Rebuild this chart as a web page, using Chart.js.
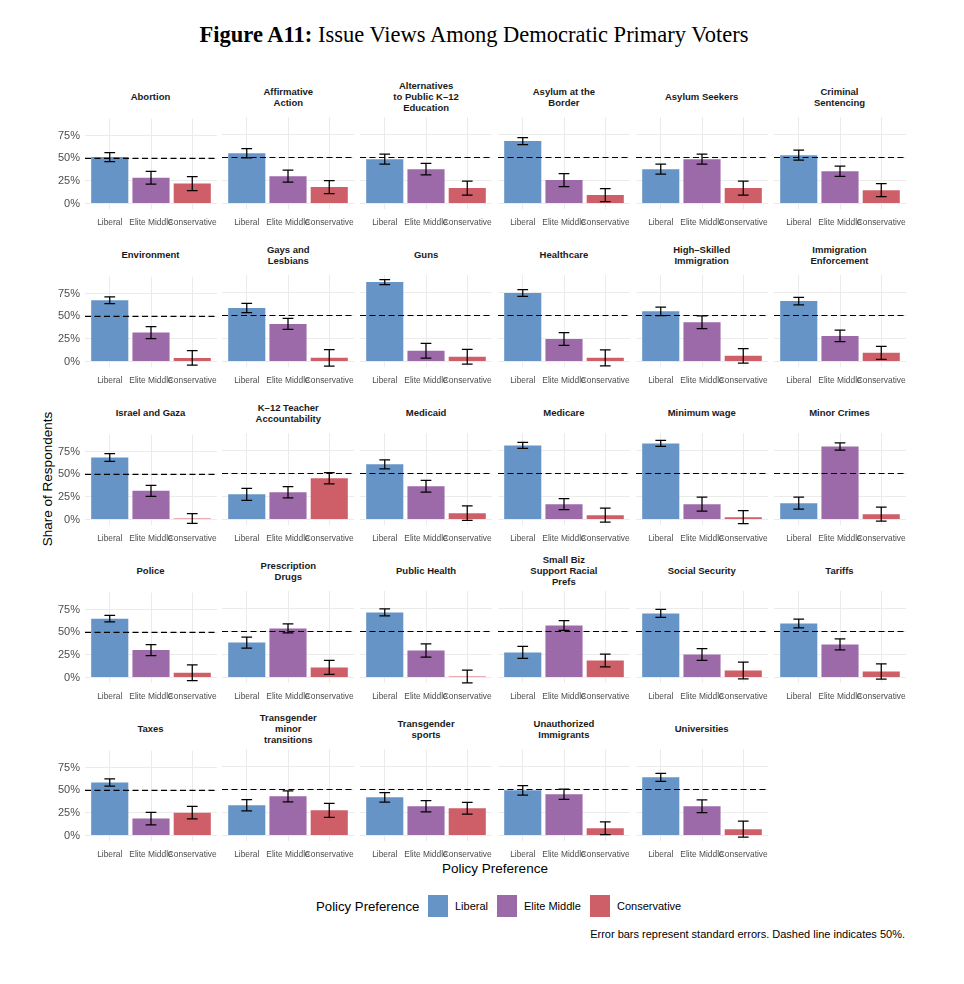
<!DOCTYPE html>
<html>
<head>
<meta charset="utf-8">
<script src="https://cdn.jsdelivr.net/npm/chart.js@4.4.1/dist/chart.umd.min.js"></script>
<style>
  body { margin: 0; background: #fff; }
  #wrap { position: relative; width: 964px; height: 984px; font-family: "Liberation Sans", Arial, sans-serif; }
  canvas { position: absolute; }
  .strip { position: absolute; display: flex; align-items: center; justify-content: center; text-align: center;
           font-weight: bold; font-size: 9.5px; line-height: 11px; color: #1a1a1a; white-space: pre-line; height: 40px; }
  .abs { position: absolute; white-space: nowrap; }
  .sw { position: absolute; width: 20px; height: 22px; }
</style>
</head>
<body>
<div id="wrap">
  <div class="abs" style="left:0;width:948px;top:22px;text-align:center;font-family:'Liberation Serif','Times New Roman',serif;font-size:22.5px;color:#000">
    <b>Figure A11:</b> Issue Views Among Democratic Primary Voters</div>
  <div class="abs" style="left:47px;top:479px;font-size:13.5px;color:#000;transform:translate(-50%,-50%) rotate(-90deg)">Share of Respondents</div>
  <div class="abs" style="left:495px;top:868px;font-size:13.5px;color:#000;transform:translate(-50%,-50%)">Policy Preference</div>

  <div class="abs" style="left:316px;top:906px;font-size:13.2px;color:#000;transform:translateY(-50%)">Policy Preference</div>
  <div class="sw" style="left:428px;top:895px;background:#6694c6"></div>
  <div class="abs" style="left:455px;top:906px;font-size:11px;color:#000;transform:translateY(-50%)">Liberal</div>
  <div class="sw" style="left:497px;top:895px;background:#9d6aa9"></div>
  <div class="abs" style="left:524px;top:906px;font-size:11px;color:#000;transform:translateY(-50%)">Elite Middle</div>
  <div class="sw" style="left:590px;top:895px;background:#ce5f69"></div>
  <div class="abs" style="left:617px;top:906px;font-size:11px;color:#000;transform:translateY(-50%)">Conservative</div>

  <div class="abs" style="right:59px;top:934px;font-size:11px;color:#000;transform:translateY(-50%)">Error bars represent standard errors. Dashed line indicates 50%.</div>
</div>

<script>
// Data ======================================================
const groups = ["Liberal", "Elite Middle", "Conservative"];
const groupColors = ["#6694c6", "#9d6aa9", "#ce5f69"];
const yTicks = [0, 25, 50, 75];

const issues = [
  "Abortion", "Affirmative\nAction", "Alternatives\nto Public K–12\nEducation", "Asylum at the\nBorder", "Asylum Seekers", "Criminal\nSentencing",
  "Environment", "Gays and\nLesbians", "Guns", "Healthcare", "High–Skilled\nImmigration", "Immigration\nEnforcement",
  "Israel and Gaza", "K–12 Teacher\nAccountability", "Medicaid", "Medicare", "Minimum wage", "Minor Crimes",
  "Police", "Prescription\nDrugs", "Public Health", "Small Biz\nSupport Racial\nPrefs", "Social Security", "Tariffs",
  "Taxes", "Transgender\nminor\ntransitions", "Transgender\nsports", "Unauthorized\nImmigrants", "Universities"
];

// shares (%) per policy preference group
const liberal = [
  51.4, 54.7, 48.2, 67.8, 37.3, 52.5,
  67.9, 58.1, 86.3, 74.4, 54.5, 65.7,
  68.6, 27.4, 59.9, 80.5, 82.7, 17.7,
  65.2, 38.0, 70.7, 27.2, 69.6, 58.7,
  58.8, 32.9, 41.5, 49.1, 63.2
];
const eliteMiddle = [
  28.6, 29.7, 37.3, 25.4, 48.2, 35.1,
  32.1, 40.8, 11.6, 24.5, 42.6, 27.8,
  31.8, 29.6, 36.1, 16.6, 16.6, 79.4,
  30.4, 53.3, 29.3, 56.5, 25.0, 35.9,
  18.8, 42.6, 31.8, 44.8, 31.8
];
const conservative = [
  22.1, 17.8, 16.7, 9.1, 16.7, 14.5,
  4.0, 4.0, 5.1, 4.0, 6.1, 9.4,
  1.2, 44.8, 6.9, 4.7, 2.5, 5.8,
  5.4, 10.9, 1.1, 18.5, 7.6, 6.5,
  25.3, 27.4, 29.6, 7.9, 6.9
];

// standard errors (%)
const seLiberal = [
  5.0, 5.0, 5.4, 3.8, 5.4, 5.4,
  3.8, 5.0, 2.7, 3.6, 4.7, 4.1,
  4.3, 6.5, 4.9, 3.2, 3.3, 6.5,
  3.5, 6.0, 3.8, 6.5, 4.3, 4.7,
  4.0, 6.1, 5.2, 5.2, 4.3
];
const seEliteMiddle = [
  7.0, 6.5, 6.3, 7.0, 5.4, 5.6,
  6.7, 6.0, 8.0, 7.0, 6.9, 6.3,
  6.1, 6.1, 6.3, 6.0, 7.6, 4.0,
  6.0, 4.9, 7.2, 5.3, 6.5, 6.0,
  7.0, 6.0, 6.1, 5.6, 7.0
];
const seConservative = [
  7.7, 7.0, 7.6, 7.0, 7.6, 7.0,
  8.0, 9.0, 8.0, 8.7, 8.0, 7.0,
  5.4, 6.0, 7.8, 7.6, 7.0, 7.6,
  8.7, 7.6, 7.0, 7.0, 9.2, 8.2,
  6.9, 7.6, 6.5, 7.0, 8.7
];

// Layout ====================================================
const wrap = document.getElementById("wrap");
const panelW = 132, plotH = 92, padTop = 10, axisH = 22, yAxisW = 40;

Chart.defaults.font.family = "'Liberation Sans', Arial, sans-serif";

issues.forEach((title, i) => {
  const row = Math.floor(i / 6), col = i % 6;
  const plotLeft = 84.5 + 137.8 * col;
  const plotTop = 116.8 + 158 * row;
  const first = col === 0;

  // strip title
  const strip = document.createElement("div");
  strip.className = "strip";
  strip.style.left = plotLeft + "px";
  strip.style.width = panelW + "px";
  strip.style.top = (96.5 + 158 * row - 20) + "px";
  strip.textContent = title;
  wrap.appendChild(strip);

  const canvas = document.createElement("canvas");
  const w = panelW + (first ? yAxisW : 0), h = padTop + plotH + axisH;
  canvas.width = w;
  canvas.height = h;
  canvas.style.width = w + "px";
  canvas.style.height = h + "px";
  canvas.style.left = (plotLeft - (first ? yAxisW : 0)) + "px";
  canvas.style.top = (plotTop - padTop) + "px";
  wrap.appendChild(canvas);

  const vals = [liberal[i], eliteMiddle[i], conservative[i]];
  const errs = [seLiberal[i], seEliteMiddle[i], seConservative[i]];

  // error bars + dashed 50% line
  const extras = {
    id: "extras",
    afterDatasetsDraw(chart) {
      const { ctx, chartArea: { left, right }, scales: { x, y } } = chart;
      ctx.save();
      ctx.strokeStyle = "#000";
      ctx.lineWidth = 1.25;
      const cap = x.getPixelForValue(0.13) - x.getPixelForValue(0);
      vals.forEach((v, k) => {
        const px = x.getPixelForValue(k);
        const hi = y.getPixelForValue(v + errs[k]);
        const lo = y.getPixelForValue(v - errs[k]);
        ctx.beginPath();
        ctx.moveTo(px, hi); ctx.lineTo(px, lo);
        ctx.moveTo(px - cap, hi); ctx.lineTo(px + cap, hi);
        ctx.moveTo(px - cap, lo); ctx.lineTo(px + cap, lo);
        ctx.stroke();
      });
      const yy = y.getPixelForValue(50);
      ctx.setLineDash([6, 3.5]);
      ctx.lineWidth = 1.2;
      ctx.beginPath();
      ctx.moveTo(left, yy); ctx.lineTo(right, yy);
      ctx.stroke();
      ctx.restore();
    }
  };

  new Chart(canvas, {
    type: "bar",
    data: {
      datasets: [{
        data: vals.map((v, k) => ({ x: k, y: v })),
        backgroundColor: groupColors,
        borderWidth: 0,
        barPercentage: 0.9,
        categoryPercentage: 1
      }]
    },
    options: {
      responsive: false,
      animation: false,
      layout: { padding: { top: padTop, left: 0, right: 0, bottom: 0 } },
      plugins: { legend: { display: false }, tooltip: { enabled: false } },
      scales: {
        x: {
          type: "linear",
          offset: false,
          min: -0.6,
          max: 2.6,
          afterBuildTicks: s => { s.ticks = groups.map((g, k) => ({ value: k })); },
          afterFit: s => { s.height = axisH; },
          ticks: {
            autoSkip: false, maxRotation: 0, minRotation: 0, padding: 0,
            font: { size: 8.4 }, color: "#4d4d4d",
            callback: v => groups[v]
          },
          grid: { offset: false, color: "#ebebeb", tickLength: 9, tickColor: "rgba(0,0,0,0)" },
          border: { display: false }
        },
        y: {
          min: -6,
          max: 94,
          afterBuildTicks: s => { s.ticks = yTicks.map(v => ({ value: v })); },
          afterFit: s => { s.width = first ? yAxisW : 0; },
          ticks: { display: first, padding: 5, font: { size: 11 }, color: "#4d4d4d", callback: v => v + "%" },
          grid: { color: "#ebebeb", drawTicks: false },
          border: { display: false }
        }
      }
    },
    plugins: [extras]
  });
});
</script>
</body>
</html>
